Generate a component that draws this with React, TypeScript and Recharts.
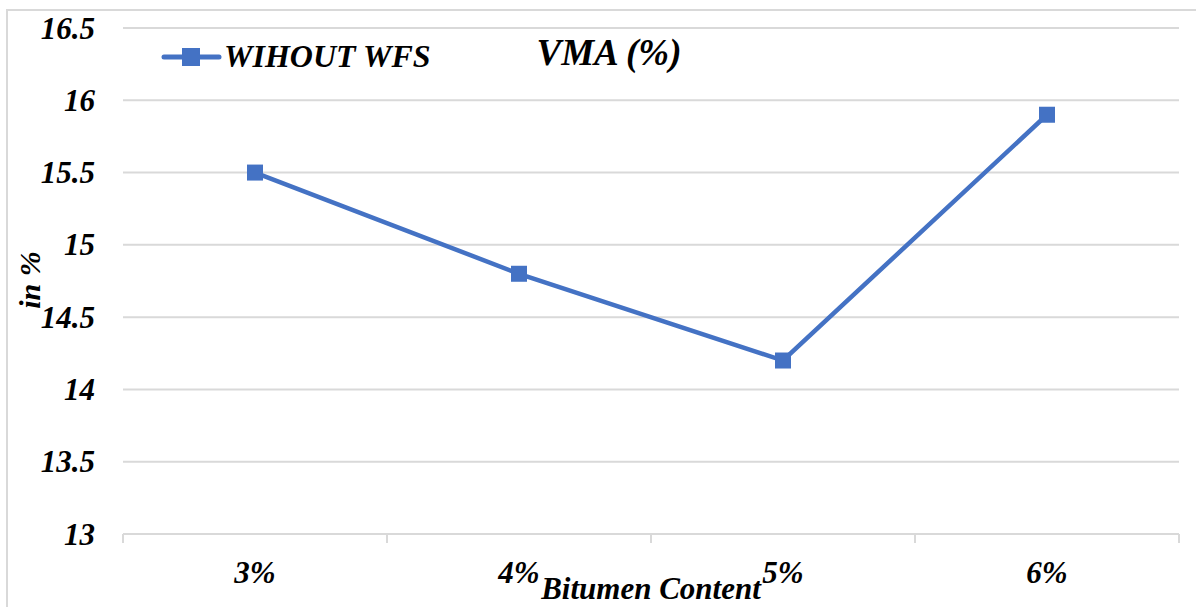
import { LineChart, Line, XAxis, YAxis, CartesianGrid, Customized } from "recharts";

const categories = ["3%", "4%", "5%", "6%"];
const vmaValues = [15.5, 14.8, 14.2, 15.9];
const yTicks = [13, 13.5, 14, 14.5, 15, 15.5, 16, 16.5];

const seriesName = "WIHOUT WFS";
const chartTitle = "VMA (%)";
const xTitle = "Bitumen Content";
const yTitle = "in %";

const W = 1196;
const H = 607;
const PLOT_LEFT = 123;
const PLOT_RIGHT = 1179;
const PLOT_TOP = 28;
const PLOT_BOTTOM = 534;
const BAND = (PLOT_RIGHT - PLOT_LEFT) / categories.length;

const BLUE = "#4472C4";
const GRID = "#d9d9d9";
const FONT = '"Liberation Serif", "Times New Roman", serif';

const data = categories.map((c, i) => ({ cat: c, vma: vmaValues[i] }));

function XTick(props: any) {
  const { x, payload, index } = props;
  const last = index === categories.length - 1;
  return (
    <g>
      <line x1={x - BAND / 2} x2={x - BAND / 2} y1={PLOT_BOTTOM} y2={PLOT_BOTTOM + 9} stroke={GRID} strokeWidth={2} />
      {last && (
        <line x1={x + BAND / 2} x2={x + BAND / 2} y1={PLOT_BOTTOM} y2={PLOT_BOTTOM + 9} stroke={GRID} strokeWidth={2} />
      )}
      <text x={x} y={583} textAnchor="middle" fontFamily={FONT} fontSize={31}
        fontWeight="bold" fontStyle="italic" fill="#000">
        {payload.value}
      </text>
    </g>
  );
}

function YTick(props: any) {
  const { y, payload } = props;
  return (
    <text x={95} y={y} textAnchor="end" dominantBaseline="central" fontFamily={FONT}
      fontSize={31} fontWeight="bold" fontStyle="italic" fill="#000">
      {payload.value}
    </text>
  );
}

function SquareDot(props: any) {
  const { cx, cy } = props;
  if (cx == null || cy == null) return null;
  return <rect x={cx - 8} y={cy - 8} width={16} height={16} fill={BLUE} />;
}

function Decorations() {
  return (
    <g>
      <rect x={7} y={10} width={W} height={H} fill="none" stroke={GRID} strokeWidth={2} />
      {/* legend */}
      <line x1={164} x2={219} y1={57} y2={57} stroke={BLUE} strokeWidth={5} strokeLinecap="round" />
      <rect x={182} y={48} width={18} height={18} fill={BLUE} />
      <text x={224} y={67} fontFamily={FONT} fontSize={32} fontWeight="bold" fontStyle="italic" fill="#000">
        {seriesName}
      </text>
      {/* title */}
      <text x={609} y={65} textAnchor="middle" fontFamily={FONT} fontSize={37} fontWeight="bold"
        fontStyle="italic" fill="#000">
        {chartTitle}
      </text>
      {/* axis titles */}
      <text x={651} y={599} textAnchor="middle" fontFamily={FONT} fontSize={31} fontWeight="bold"
        fontStyle="italic" fill="#000">
        {xTitle}
      </text>
      <text x={0} y={0} transform="translate(40, 280) rotate(-90)" textAnchor="middle" fontFamily={FONT}
        fontSize={30} fontWeight="bold" fontStyle="italic" fill="#000">
        {yTitle}
      </text>
    </g>
  );
}

export default function App() {
  return (
    <div style={{ position: "absolute", left: 0, top: 0, width: W, height: H, background: "#fff" }}>
      <LineChart width={W} height={H} data={data}
        margin={{ top: PLOT_TOP, right: W - PLOT_RIGHT, bottom: 0, left: 0 }}>
        <CartesianGrid horizontal vertical={false} stroke={GRID} strokeWidth={2} />
        <XAxis dataKey="cat" scale="band" height={H - PLOT_BOTTOM} interval={0}
          axisLine={{ stroke: GRID, strokeWidth: 2 }} tickLine={false} tick={<XTick />} />
        <YAxis width={PLOT_LEFT} domain={[13, 16.5]} ticks={yTicks} interval={0}
          axisLine={false} tickLine={false} tick={<YTick />} />
        <Line dataKey="vma" name={seriesName} stroke={BLUE} strokeWidth={4.5}
          dot={<SquareDot />} activeDot={false} isAnimationActive={false} />
        <Customized component={Decorations} />
      </LineChart>
    </div>
  );
}
